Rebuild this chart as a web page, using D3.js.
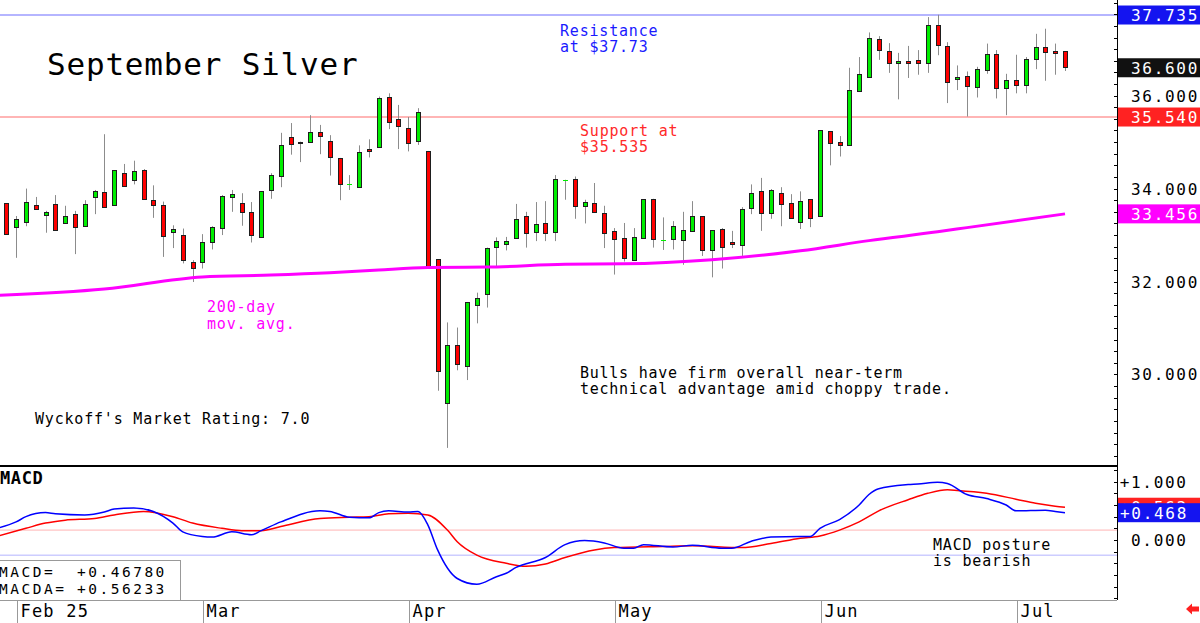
<!DOCTYPE html>
<html>
<head>
<meta charset="utf-8">
<script src="https://cdn.jsdelivr.net/npm/d3@7"></script>
<style>
body { margin: 0; background: #fff; }
svg { display: block; }
text { font-family: "DejaVu Sans Mono", monospace; }
</style>
</head>
<body>
<svg id="chart" width="1200" height="623"></svg>
<script>
// daily OHLC, Jan 31 -> Jul 9 (one entry per trading day)
const opens = [33.68,33.17,33.27,33.64,33.42,33.66,33.25,33.45,33.18,33.83,
  33.93,33.63,34.33,34.17,34.39,33.75,33.64,33.07,33.01,32.43,
  32.41,32.85,33.15,33.81,33.70,33.50,32.94,33.96,34.28,35.10,
  35.01,35.00,35.21,35.03,34.66,34.09,34.03,34.86,34.89,35.96,
  35.50,35.31,35.01,34.81,32.48,29.38,30.63,30.18,31.49,31.75,
  32.75,32.80,32.94,33.41,33.06,33.27,33.07,34.18,34.21,33.63,
  33.69,33.48,33.09,32.94,32.46,32.94,33.78,32.89,32.92,32.89,
  33.09,33.41,32.68,33.12,32.85,32.78,33.58,33.94,33.47,33.91,
  33.70,33.27,33.77,33.41,35.24,35.00,34.94,36.10,36.42,37.21,
  36.96,36.70,36.74,36.76,36.69,37.53,37.07,36.35,36.42,36.19,
  36.56,36.90,36.16,36.34,36.24,36.79,37.05,36.97,36.95]
const highs = [33.68,33.41,34.00,33.82,33.52,33.86,33.63,33.52,33.75,33.97,
  35.17,34.39,34.53,34.60,34.42,34.07,33.72,33.21,33.14,32.46,
  33.02,33.19,33.86,33.97,33.90,33.71,33.94,34.33,35.20,35.41,
  35.01,35.58,35.37,35.15,34.66,34.29,34.93,35.06,35.98,36.05,
  35.80,35.54,35.73,34.81,32.48,31.12,31.01,31.56,31.76,32.73,
  32.95,32.96,33.67,33.50,33.71,33.73,34.29,34.19,34.26,33.76,
  34.12,33.63,33.15,33.26,33.15,33.77,33.78,33.38,33.30,33.50,
  33.73,33.41,33.10,33.15,33.09,33.60,34.09,34.23,33.99,34.03,
  33.88,33.94,33.77,35.26,35.24,35.13,36.60,36.83,37.36,37.28,
  37.13,36.92,37.07,36.98,37.69,37.74,37.15,36.65,36.52,36.62,
  37.12,36.98,36.47,36.88,36.83,37.33,37.44,37.12,36.95]
const lows = [33.02,32.51,33.19,33.55,33.05,33.09,33.24,32.59,33.18,33.45,
  33.60,33.63,34.04,34.09,33.77,33.37,32.53,32.72,32.39,31.99,
  32.28,32.69,33.00,33.50,33.20,32.84,32.94,33.78,34.03,34.73,
  34.57,35.00,34.74,34.28,33.75,33.97,34.03,34.67,34.89,35.28,
  34.85,34.80,34.94,32.32,29.65,28.42,30.09,29.88,31.10,31.44,
  32.30,32.67,32.94,32.73,32.87,32.87,32.87,33.76,33.35,33.25,
  33.49,32.72,32.15,32.43,32.46,32.94,32.73,32.68,32.69,32.36,
  33.09,32.55,32.09,32.28,32.72,32.55,33.45,33.09,33.35,33.19,
  33.38,33.13,33.17,33.40,34.50,34.69,34.94,36.10,36.42,36.77,
  36.49,35.92,36.38,36.45,36.49,36.87,35.84,36.12,35.55,35.96,
  36.47,35.94,35.58,36.05,36.05,36.57,36.32,36.45,36.53]
const closes = [33.02,33.35,33.71,33.55,33.49,33.09,33.40,33.18,33.66,33.95,
  33.60,34.39,34.04,34.37,33.77,33.64,32.98,33.13,32.48,32.31,
  32.85,33.17,33.83,33.88,33.50,33.01,33.94,34.29,34.94,34.94,
  34.98,35.21,35.12,34.68,34.10,34.10,34.79,34.82,35.94,35.42,
  35.35,34.98,35.64,32.32,30.07,30.63,30.22,31.56,31.64,32.73,
  32.87,32.87,33.35,33.04,33.24,33.06,34.21,34.19,33.63,33.71,
  33.49,33.04,32.92,32.51,32.96,33.77,32.92,32.90,33.19,33.10,
  33.42,32.68,33.10,32.73,32.80,33.55,33.91,33.47,33.96,33.68,
  33.38,33.73,33.36,35.25,34.99,34.94,36.12,36.47,37.25,36.98,
  36.70,36.74,36.70,36.70,37.51,37.09,36.30,36.40,36.21,36.57,
  36.90,36.17,36.34,36.24,36.79,37.05,36.95,36.92,36.60]

// 200-day moving average, read at [day index, value]
const ma200 = [[-1,31.70],[10,31.84],[20,32.10],[27,32.14],[33,32.19],[38,32.25],
  [43,32.30],[49,32.31],[57,32.37],[63,32.38],[72,32.47],[81,32.66],[88,32.88],
  [95,33.07],[98,33.16],[108,33.456]]

// MACD (blue) and its average (red), [day index, value]
const macd = [[-1,0.20],[1,0.31],[2,0.40],[4,0.47],[5,0.45],[8,0.43],[10,0.48],[11,0.53],
  [13,0.55],[15,0.49],[17,0.29],[18,0.14],[20,0.06],[21,0.05],[23,0.14],[25,0.09],
  [26,0.16],[28,0.31],[32,0.50],[33,0.49],[35,0.39],[37,0.38],[38,0.47],[39,0.50],
  [41,0.48],[42,0.49],[43,0.26],[44,-0.17],[46,-0.66],[48,-0.76],[50,-0.63],[51,-0.57],
  [52,-0.47],[55,-0.30],[57,-0.08],[59,-0.01],[61,-0.05],[63,-0.14],[64,-0.14],[65,-0.08],
  [68,-0.12],[70,-0.09],[73,-0.14],[74,-0.14],[76,-0.02],[78,0.05],[81,0.06],[82,0.06],
  [83,0.20],[85,0.35],[87,0.60],[88,0.78],[89,0.88],[92,0.95],[93,0.96],[95,0.99],
  [96,0.97],[98,0.78],[100,0.71],[102,0.60],[103,0.50],[106,0.51],[107,0.49],[108,0.468]]
const macdAvg = [[-1,0.06],[2,0.20],[4,0.29],[6,0.34],[9,0.37],[11,0.43],[14,0.49],
  [17,0.40],[19,0.29],[22,0.20],[24,0.16],[26,0.16],[28,0.23],[32,0.37],[35,0.39],
  [37,0.40],[39,0.45],[41,0.46],[43,0.43],[45,0.17],[46,-0.03],[48,-0.26],[51,-0.40],
  [53,-0.45],[55,-0.41],[57,-0.30],[60,-0.17],[62,-0.13],[67,-0.11],[70,-0.10],[75,-0.13],
  [78,-0.06],[81,0.03],[83,0.07],[85,0.17],[87,0.31],[89,0.50],[92,0.69],[94,0.80],
  [96,0.86],[97,0.85],[100,0.80],[103,0.70],[105,0.63],[107,0.58],[108,0.562]]
const macdRefs = [0.17, -0.26]

const resistance = 37.735
const support = 35.54
const lastClose = 36.60
const lastMa = 33.456
const lastMacd = 0.468
const lastMacdAvg = 0.562

const priceTicks = [30, 32, 34, 36]
const macdTicks = ["+1.000", "0.000"]
const macdTickVals = [1, 0]
const months = ["Feb 25", "Mar", "Apr", "May", "Jun", "Jul"]
const monthStart = [1, 20, 41, 62, 83, 103]

const axisX = 1117
const svg = d3.select("#chart")

const x = d3.scaleLinear().domain([0, 108]).range([6.3, 1065])
const y = d3.scaleLinear().domain([28.052, 38.058]).range([465, 0])
const ym = d3.scaleLinear().domain([-1.029, 1.269]).range([600, 466])

const defs = svg.append("defs")
defs.append("clipPath").attr("id", "cp").append("rect")
    .attr("x", 0).attr("y", 0).attr("width", axisX).attr("height", 465)
defs.append("clipPath").attr("id", "cm").append("rect")
    .attr("x", 0).attr("y", 467).attr("width", axisX).attr("height", 133)

const price = svg.append("g").attr("clip-path", "url(#cp)")

// resistance / support
price.append("line")
    .attr("x1", 0).attr("x2", axisX)
    .attr("y1", y(resistance)).attr("y2", y(resistance))
    .style("stroke", "#9c9cff").style("stroke-width", 1.6)
price.append("line")
    .attr("x1", 0).attr("x2", axisX)
    .attr("y1", y(support)).attr("y2", y(support))
    .style("stroke", "#ff9c9c").style("stroke-width", 1.4)

const candles = opens.map((o, i) => ({ i, o, h: highs[i], l: lows[i], c: closes[i] }))
const px = i => Math.round(x(i)) + 0.5

price.selectAll("line.wick")
    .data(candles)
    .join("line")
    .attr("class", "wick")
    .attr("x1", d => px(d.i)).attr("x2", d => px(d.i))
    .attr("y1", d => y(d.h)).attr("y2", d => y(d.l))
    .style("stroke", "#8c8c8c").style("stroke-width", 1)

price.selectAll("rect.body")
    .data(candles)
    .join("rect")
    .attr("class", "body")
    .attr("x", d => px(d.i) - 2)
    .attr("width", 4)
    .attr("y", d => Math.round(y(Math.max(d.o, d.c))) + 0.5)
    .attr("height", d => Math.max(0.01, Math.round(Math.abs(y(d.o) - y(d.c)))))
    .style("fill", d => d.c >= d.o ? "#00ee00" : "#ff0000")
    .style("stroke", d => Math.abs(y(d.o) - y(d.c)) < 1.2 ? (d.c >= d.o ? "#00ee00" : "#ff0000") : "#1e1e1e")
    .style("stroke-width", 1)

// 200-day MA
price.append("path")
    .datum(ma200)
    .attr("d", d3.line().x(d => x(d[0])).y(d => y(d[1])).curve(d3.curveMonotoneX))
    .style("fill", "none").style("stroke", "#ff00ff").style("stroke-width", 3)

// annotations
function label(txt, tx, ty, size, color, ls, weight) {
    svg.append("text")
        .attr("x", tx).attr("y", ty)
        .style("font-size", size + "px")
        .style("letter-spacing", ls + "px")
        .style("font-weight", weight || "normal")
        .style("fill", color)
        .text(txt)
}
label("September Silver", 47, 75, 31, "#000", 0.8)
label("Resistance", 560, 36, 15, "#1a1aff", 0.8)
label("at $37.73", 560, 52, 15, "#1a1aff", 0.8)
label("Support at", 580, 136, 15, "#ff2a2a", 0.8)
label("$35.535", 580, 152, 15, "#ff2a2a", 0.8)
label("200-day", 207, 312, 15, "#ff00ff", 0.8)
label("mov. avg.", 207, 329, 15, "#ff00ff", 0.8)
label("Bulls have firm overall near-term", 580, 378, 15, "#000", 0.75)
label("technical advantage amid choppy trade.", 580, 394, 15, "#000", 0.75)
label("Wyckoff's Market Rating: 7.0", 35, 424, 15, "#000", 0.8)

// MACD panel
const mp = svg.append("g").attr("clip-path", "url(#cm)")
mp.append("line").attr("x1", 0).attr("x2", axisX)
    .attr("y1", ym(macdRefs[0])).attr("y2", ym(macdRefs[0]))
    .style("stroke", "#ffb4b4").style("stroke-width", 1)
mp.append("line").attr("x1", 0).attr("x2", axisX)
    .attr("y1", ym(macdRefs[1])).attr("y2", ym(macdRefs[1]))
    .style("stroke", "#b4b4ff").style("stroke-width", 1)

const mline = d3.line().x(d => x(d[0])).y(d => ym(d[1])).curve(d3.curveMonotoneX)
mp.append("path").datum(macdAvg).attr("d", mline)
    .style("fill", "none").style("stroke", "#ff0000").style("stroke-width", 1.5)
mp.append("path").datum(macd).attr("d", mline)
    .style("fill", "none").style("stroke", "#0000ff").style("stroke-width", 1.5)

svg.append("line").attr("x1", 0).attr("x2", axisX).attr("y1", 466).attr("y2", 466)
    .style("stroke", "#000").style("stroke-width", 2)
label("MACD", 0, 484, 17, "#000", 0.6, "bold")
label("MACD posture", 933, 550, 15, "#000", 0.8)
label("is bearish", 933, 566, 15, "#000", 0.8)

svg.append("rect").attr("x", -1).attr("y", 560.5).attr("width", 181.5).attr("height", 40)
    .style("fill", "#fff").style("stroke", "#999")
label("MACD=", -1, 577, 14.5, "#000", 2.5)
label("+0.46780", 77, 577, 14.5, "#000", 2.5)
label("MACDA=", -1, 594, 14.5, "#000", 2.5)
label("+0.56233", 77, 594, 14.5, "#000", 2.5)

// bottom date row
svg.append("line").attr("x1", 0).attr("x2", axisX).attr("y1", 600.5).attr("y2", 600.5)
    .style("stroke", "#999")
months.forEach((m, k) => {
    const mx = px(monthStart[k]) + 1
    svg.append("line").attr("x1", mx).attr("x2", mx).attr("y1", 600).attr("y2", 623)
        .style("stroke", "#999")
    label(m, mx + 3, 617, 17, "#000", 1.2)
})

// right axis
svg.append("line").attr("x1", axisX + 0.5).attr("x2", axisX + 0.5).attr("y1", 0).attr("y2", 600)
    .style("stroke", "#000").style("stroke-width", 1)
svg.append("g").selectAll("line")
    .data(d3.range(28.25, 38.01, 0.25))
    .join("line")
    .attr("x1", axisX - 3).attr("x2", axisX)
    .attr("y1", d => Math.round(y(d)) + 0.5).attr("y2", d => Math.round(y(d)) + 0.5)
    .style("stroke", "#000")
svg.append("g").selectAll("line")
    .data(d3.range(-1.0, 1.21, 0.2))
    .join("line")
    .attr("x1", axisX - 3).attr("x2", axisX)
    .attr("y1", d => Math.round(ym(d)) + 0.5).attr("y2", d => Math.round(ym(d)) + 0.5)
    .style("stroke", "#000")

priceTicks.forEach(v => label(d3.format(".3f")(v), 1131, y(v) + 6, 16, "#000", 1.7))
macdTicks.forEach((t, k) => label(t, 1186 - t.length * 11.3 + 1.5, ym(macdTickVals[k]) + 6, 16, "#000", 1.7))

function box(v, scale, color, txt, tx) {
    svg.append("rect").attr("x", axisX + 1).attr("y", scale(v) - 9.5)
        .attr("width", 1200 - axisX - 1).attr("height", 19).style("fill", color)
    label(txt, tx, scale(v) + 6, 16, "#fff", 1.7)
}
box(resistance, y, "#1414f0", d3.format(".3f")(resistance), 1131)
box(lastClose, y, "#111", d3.format(".3f")(lastClose), 1131)
box(support, y, "#ff2222", d3.format(".3f")(support), 1131)
box(lastMa, y, "#ff00ff", d3.format(".3f")(lastMa), 1131)
box(lastMacdAvg, ym, "#ff2222", d3.format("+.3f")(lastMacdAvg), 1120)
box(lastMacd, ym, "#1414f0", d3.format("+.3f")(lastMacd), 1120)

// small red arrow bottom right
svg.append("path")
    .attr("d", "M1186,609 L1192,603.5 L1192,606.5 L1199,606.5 L1199,611.5 L1192,611.5 L1192,614.5 Z")
    .style("fill", "#ff2020")
</script>
</body>
</html>
